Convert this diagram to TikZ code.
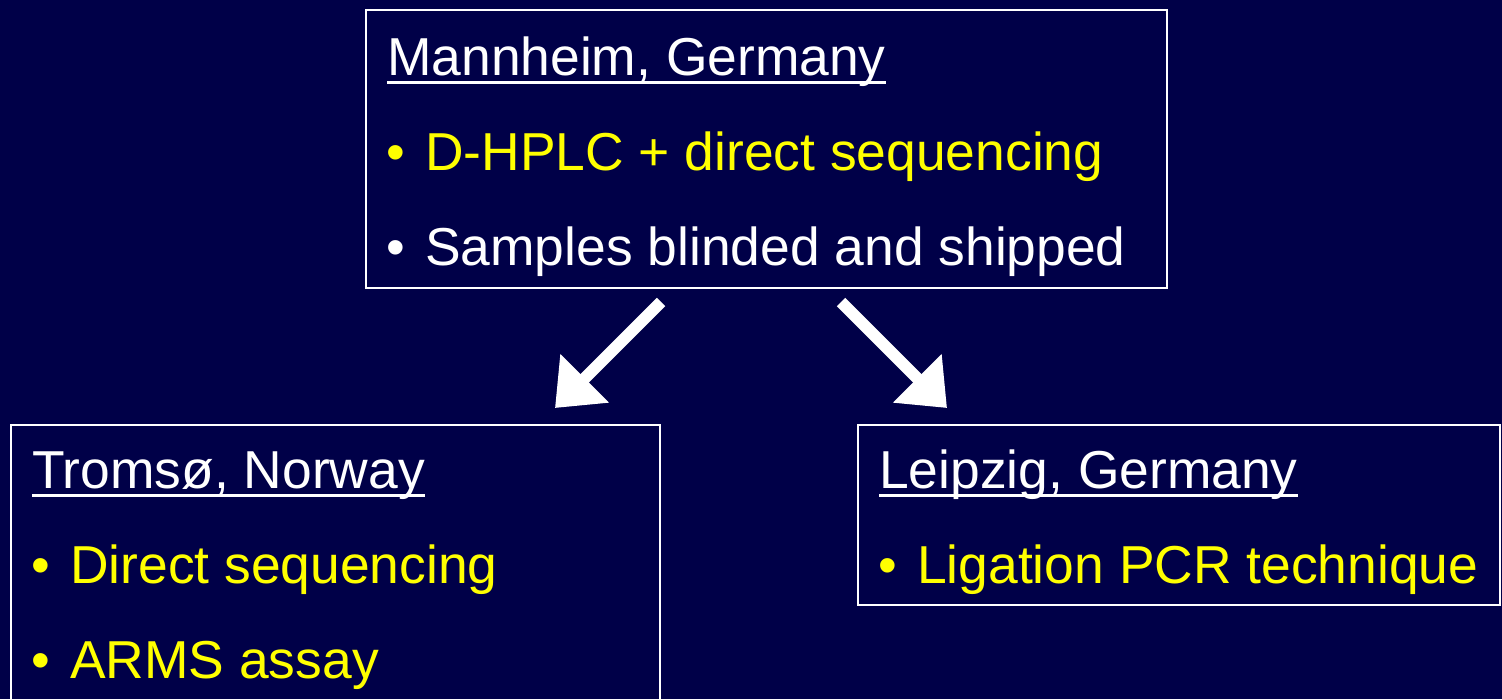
\documentclass[tikz,border=0pt]{standalone}
\usepackage{fontspec}
\setmainfont{Liberation Sans}
\usetikzlibrary{arrows.meta}
\definecolor{bg}{RGB}{0,0,72}
\definecolor{yel}{RGB}{255,255,0}
\tikzset{
  box/.style={draw=white, line width=2pt, fill=none},
  txt/.style={anchor=base west, inner sep=0pt, font=\fontsize{53.4}{60}\selectfont},
  head/.style={txt, text=white},
  item/.style={txt, text=yel},
  itemw/.style={txt, text=white},
  bul/.style={txt},
  ul/.style={white, line width=3pt},
  bigarrow/.style={white, line width=12pt, -{Triangle[width=66pt,length=42pt]}}
}
\begin{document}
\begin{tikzpicture}[x=1pt,y=-1pt]
\fill[bg] (0,0) rectangle (1502,699);
\useasboundingbox (0,0) rectangle (1502,699);
% boxes
\draw[box] (366,10) rectangle (1167,288);
\draw[box] (11,425) rectangle (660,720);
\draw[box] (858,425) rectangle (1500,605);
% top box
\node[head] (mh) at (387,75) {Mannheim, Germany};
\draw[ul] ([yshift=-7pt]mh.base west) -- ([yshift=-7pt]mh.base east);
\node[bul, text=yel] (b1) at (386,170) {•};
\node[item] (t1) at (425,170) {D-HPLC + direct sequencing};
\node[bul, text=white] (b2) at (386,265) {•};
\node[itemw] (t2) at (425,265) {Samples blinded and shipped};
% left box
\node[head] (tr) at (32,488) {Tromsø, Norway};
\draw[ul] ([yshift=-7pt]tr.base west) -- ([yshift=-7pt]tr.base east);
\node[bul, text=yel] (b3) at (31,583) {•};
\node[item] (t3) at (70,583) {Direct sequencing};
\node[bul, text=yel] (b4) at (31,678) {•};
\node[item] (t4) at (70,678) {ARMS assay};
% right box
\node[head] (lp) at (879,488) {Leipzig, Germany};
\draw[ul] ([yshift=-7pt]lp.base west) -- ([yshift=-7pt]lp.base east);
\node[bul, text=yel] (b5) at (878,583) {•};
\node[item] (t5) at (917,583) {Ligation PCR technique};
% arrows
\coordinate (a1s) at (661,302);
\coordinate (a1e) at (555,408);
\coordinate (a2s) at (841,302);
\coordinate (a2e) at (947,408);
\draw[bigarrow] (a1s) -- (a1e);
\draw[bigarrow] (a2s) -- (a2e);
\end{tikzpicture}
\end{document}
